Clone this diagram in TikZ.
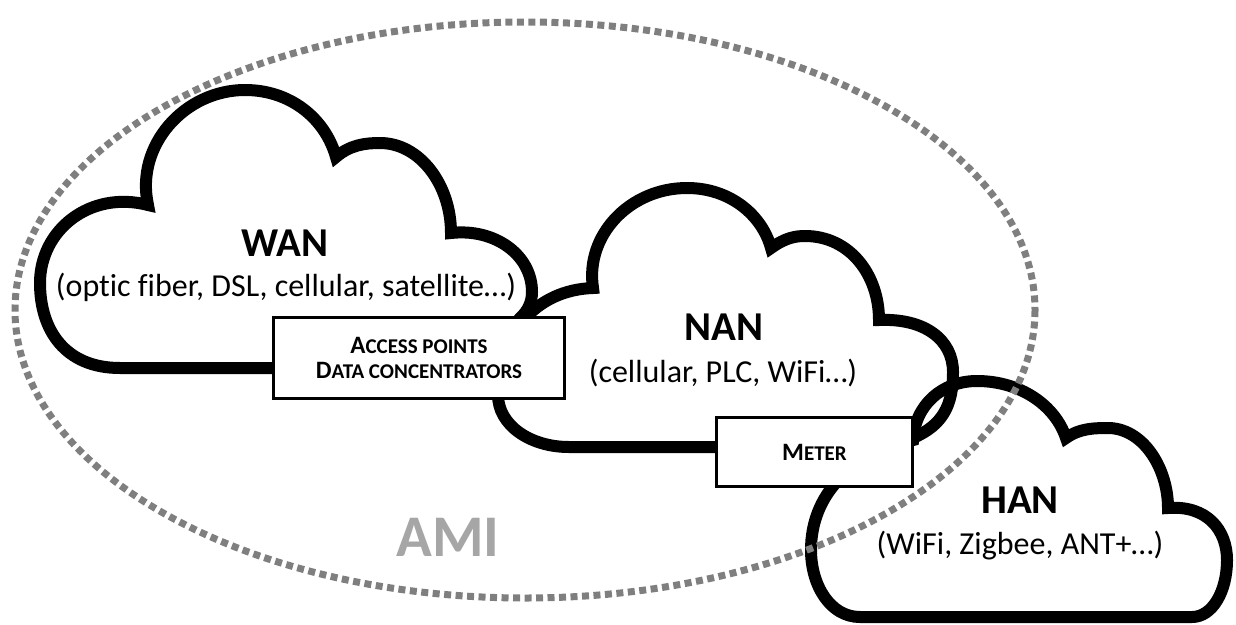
\documentclass[tikz,border=0pt]{standalone}
\usepackage{fontspec}
\setmainfont{Carlito}[Ligatures=NoCommon]
\usepackage{xcolor}
\definecolor{amigray}{HTML}{7F7F7F}
\definecolor{amitext}{HTML}{A6A6A6}
\newcommand{\smallcap}[1]{{\fontsize{21}{25}\selectfont #1}}

\begin{document}
\begin{tikzpicture}[x=1pt,y=-1pt,
  cloud line/.style={line width=12pt,black},
  ring/.style={amigray,line width=7pt,dash pattern=on 7pt off 4.5pt},
  net label/.style={font=\fontsize{41}{44}\selectfont\bfseries,inner sep=0pt},
  tech label/.style={font=\fontsize{32}{35}\selectfont,inner sep=0pt},
  device box/.style={draw,fill=white,line width=2.5pt,font=\fontsize{25}{25}\selectfont\bfseries,align=center,inner sep=0pt}]

    \useasboundingbox (0,0) rectangle (1236,624);

    % WAN cloud
    \draw[cloud line] (200,368) -- (120,368)
        .. controls (65,368) and (40,330) .. (40,283)
        .. controls (40,230) and (90,190) .. (148,205)
        .. controls (135,145) and (185,90) .. (245,90)
        .. controls (290,90) and (325,118) .. (336,157)
        .. controls (350,145) and (365,143) .. (380,143)
        .. controls (420,143) and (451,185) .. (451,233)
        .. controls (495,228) and (532,255) .. (532,292)
        .. controls (532,302) and (528,311) .. (520,318)
        .. controls (500,345) and (470,368) .. (430,368) -- cycle;

    % NAN cloud
    \draw[cloud line] (700,447) -- (569,447)
        .. controls (530,447) and (498,425) .. (498,395)
        .. controls (498,335) and (535,290) .. (593,288)
        .. controls (585,235) and (630,188) .. (687,188)
        .. controls (730,188) and (762,215) .. (771,248)
        .. controls (785,238) and (795,236) .. (805,236)
        .. controls (850,236) and (879,275) .. (879,320)
        .. controls (925,318) and (953,340) .. (953,372)
        .. controls (953,405) and (943,425) .. (913,438)
        .. controls (890,447) and (870,447) .. (850,447) -- cycle;

    % HAN cloud
    \draw[cloud line] (1000,617) -- (860,617)
        .. controls (830,617) and (811,585) .. (811,550)
        .. controls (811,495) and (850,455) .. (913,440)
        .. controls (915,405) and (942,381) .. (977,381)
        .. controls (1020,381) and (1055,405) .. (1066,438)
        .. controls (1080,428) and (1095,428) .. (1110,428)
        .. controls (1145,430) and (1168,470) .. (1168,508)
        .. controls (1207,505) and (1227,530) .. (1227,560)
        .. controls (1227,592) and (1212,617) .. (1192,617) -- cycle;

    % AMI boundary
    \draw[ring] (525,310) ellipse (510 and 288);

    \node[net label] (wan) at (285,243) {WAN};
    \node[tech label] (wantech) at (286,287) {(optic fiber, DSL, cellular, satellite…)};
    \node[net label] (nan) at (724,327) {NAN};
    \node[tech label] (nantech) at (723,373) {(cellular, PLC, WiFi…)};
    \node[net label] (han) at (1020,500) {HAN};
    \node[tech label] (hantech) at (1020,546) {(WiFi, Zigbee, ANT+…)};
    \node[font=\fontsize{59}{62}\selectfont\bfseries,text=amitext,inner sep=0pt] (ami) at (448,537) {AMI};

    \node[device box,minimum width=291pt,minimum height=81pt] (access) at (419,358)
        {A\smallcap{CCESS POINTS}\\D\smallcap{ATA CONCENTRATORS}};
    \node[device box,minimum width=196pt,minimum height=69pt] (meter) at (814.5,452) {M\smallcap{ETER}};

\end{tikzpicture}
\end{document}
